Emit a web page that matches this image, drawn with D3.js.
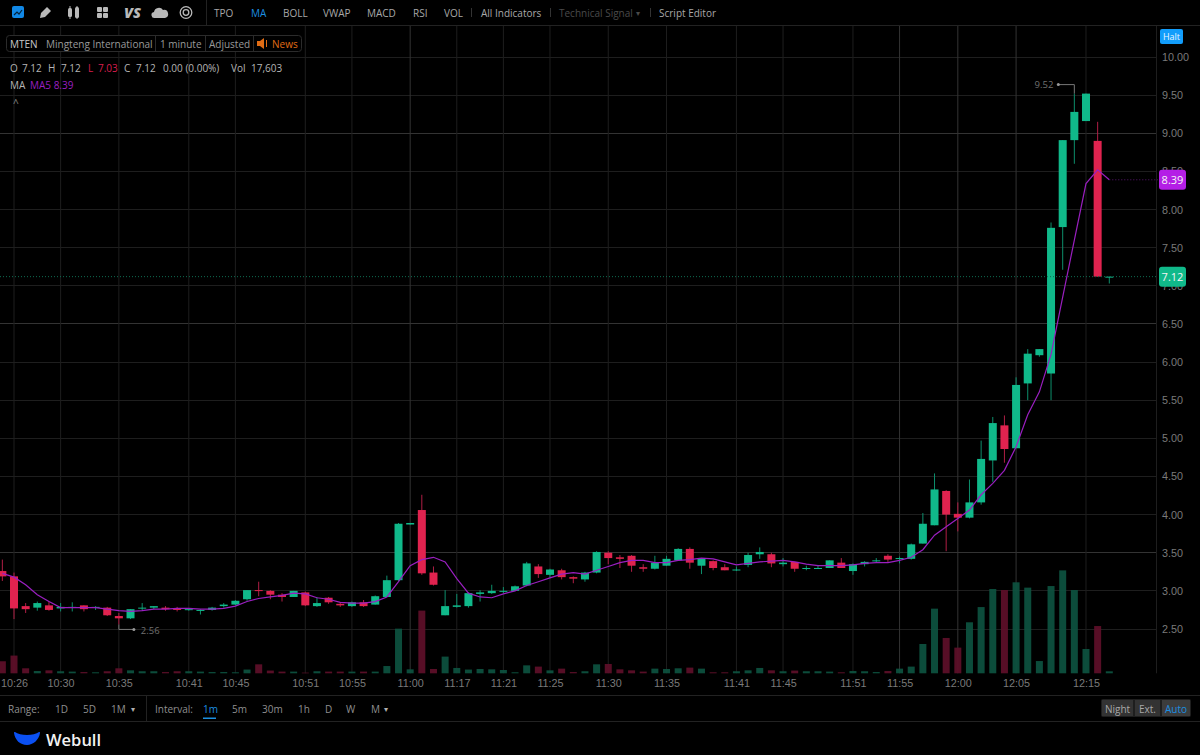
<!DOCTYPE html>
<html>
<head>
<meta charset="utf-8">
<style>
  html, body { margin: 0; padding: 0; background: #000; overflow: hidden; }
  svg { display: block; font-family: "Open Sans", sans-serif; }
  .y.axis text, .x.axis text { fill: #7a7a7a; font-size: 10.8px; }
  .axis path { display: none; }
</style>
<script src="https://cdn.jsdelivr.net/npm/d3@7"></script>
</head>
<body>
<svg id="chart" width="1200" height="755"></svg>
<script>
// Candles, one entry per minute bar
const opens = [3.26, 3.19, 2.80, 2.78, 2.81, 2.77, 2.78, 2.81, 2.78, 2.78, 2.67, 2.64, 2.77, 2.78, 2.78, 2.77, 2.75, 2.74, 2.75, 2.80, 2.82, 2.89, 3.01, 3.00, 2.95, 2.92,
  2.98, 2.80, 2.91, 2.83, 2.80, 2.85, 2.82, 2.92, 3.14, 3.87, 4.06, 3.24, 2.68, 2.79, 2.80, 2.96, 2.97, 2.99, 3.00, 3.07, 3.32, 3.21, 3.27, 3.18, 3.15, 3.24,
  3.50, 3.44, 3.46, 3.31, 3.29, 3.33, 3.40, 3.55, 3.33, 3.39, 3.31, 3.27, 3.34, 3.48, 3.48, 3.35, 3.38, 3.29, 3.29, 3.30, 3.37, 3.26, 3.35, 3.39, 3.46,
  3.42, 3.42, 3.62, 3.86, 4.31, 4.01, 3.96, 4.16, 4.71, 5.17, 4.87, 5.72, 6.09, 5.85, 7.77, 8.91, 9.16, 8.90, 7.12]
const highs = [3.41, 3.24, 2.84, 2.86, 2.86, 2.84, 2.85, 2.81, 2.80, 2.79, 2.71, 2.76, 2.84, 2.80, 2.80, 2.79, 2.77, 2.76, 2.79, 2.84, 2.88, 3.01, 3.12, 3.01, 2.97, 3.00,
  2.99, 2.92, 2.92, 2.85, 2.86, 2.88, 2.94, 3.20, 3.89, 3.89, 4.26, 3.32, 3.01, 2.96, 2.98, 3.01, 3.08, 3.05, 3.07, 3.38, 3.35, 3.29, 3.29, 3.19, 3.25, 3.52,
  3.52, 3.47, 3.47, 3.35, 3.46, 3.46, 3.56, 3.57, 3.43, 3.40, 3.35, 3.32, 3.50, 3.57, 3.50, 3.43, 3.38, 3.33, 3.33, 3.40, 3.43, 3.36, 3.39, 3.43, 3.48,
  3.45, 3.62, 4.02, 4.54, 4.32, 4.16, 4.46, 4.97, 5.28, 5.30, 5.80, 6.17, 6.17, 7.83, 8.91, 9.52, 9.52, 9.15, 7.12]
const lows = [3.13, 2.63, 2.71, 2.74, 2.74, 2.73, 2.73, 2.73, 2.75, 2.67, 2.56, 2.63, 2.74, 2.76, 2.74, 2.73, 2.74, 2.69, 2.74, 2.78, 2.81, 2.87, 2.93, 2.89, 2.86, 2.92,
  2.80, 2.79, 2.83, 2.79, 2.79, 2.79, 2.82, 2.92, 3.13, 3.87, 3.21, 3.07, 2.68, 2.78, 2.78, 2.86, 2.96, 2.97, 3.00, 3.06, 3.17, 3.17, 3.15, 3.10, 3.12, 3.23,
  3.35, 3.30, 3.25, 3.25, 3.28, 3.33, 3.40, 3.29, 3.22, 3.27, 3.27, 3.26, 3.31, 3.42, 3.31, 3.32, 3.25, 3.27, 3.29, 3.30, 3.30, 3.21, 3.32, 3.37, 3.38,
  3.36, 3.41, 3.62, 3.86, 3.52, 3.78, 3.95, 4.13, 4.43, 4.68, 4.87, 5.50, 6.07, 5.50, 7.21, 8.60, 9.16, 7.12, 7.03]
const closes = [3.19, 2.77, 2.76, 2.84, 2.75, 2.79, 2.79, 2.76, 2.79, 2.68, 2.64, 2.76, 2.78, 2.80, 2.76, 2.75, 2.76, 2.75, 2.78, 2.82, 2.87, 3.01, 3.00, 2.95, 2.92, 3.00,
  2.81, 2.84, 2.85, 2.81, 2.85, 2.80, 2.93, 3.14, 3.88, 3.89, 3.23, 3.08, 2.80, 2.81, 2.97, 2.98, 3.00, 3.00, 3.06, 3.36, 3.22, 3.28, 3.18, 3.16, 3.24, 3.51,
  3.43, 3.42, 3.33, 3.29, 3.37, 3.42, 3.55, 3.37, 3.42, 3.30, 3.27, 3.28, 3.47, 3.51, 3.36, 3.37, 3.29, 3.30, 3.30, 3.40, 3.30, 3.35, 3.38, 3.40, 3.41,
  3.43, 3.61, 3.88, 4.33, 4.00, 3.96, 4.16, 4.73, 5.20, 4.86, 5.70, 6.11, 6.17, 7.76, 8.91, 9.28, 9.52, 7.12, 7.12]
// Volume in thousands of shares
const volumes = [106, 156, 44, 20, 26, 18, 15, 11, 9, 18, 44, 26, 18, 18, 11, 18, 18, 15, 11, 11, 9, 33, 79, 24, 15, 15,
  6, 18, 15, 15, 15, 15, 15, 64, 393, 35, 552, 38, 147, 47, 33, 38, 35, 29, 9, 70, 59, 26, 41, 11, 18, 79,
  82, 35, 26, 15, 41, 38, 44, 50, 41, 9, 9, 18, 26, 47, 26, 18, 24, 18, 18, 15, 9, 20, 18, 11, 20,
  41, 59, 258, 569, 311, 226, 449, 583, 742, 733, 801, 754, 108, 768, 906, 733, 214, 416, 17.6]
const ma5 = [3.23, 3.18, 3.08, 2.95, 2.86, 2.78, 2.78, 2.78, 2.78, 2.76, 2.74, 2.73, 2.74, 2.76, 2.76, 2.77, 2.77, 2.76, 2.76, 2.77, 2.80, 2.86, 2.90, 2.92, 2.94, 2.97,
  2.96, 2.91, 2.89, 2.85, 2.84, 2.84, 2.86, 2.92, 3.12, 3.33, 3.41, 3.44, 3.38, 3.16, 2.97, 2.92, 2.91, 2.96, 3.00, 3.07, 3.12, 3.17, 3.22, 3.24, 3.22, 3.27,
  3.32, 3.37, 3.40, 3.40, 3.37, 3.37, 3.40, 3.41, 3.43, 3.42, 3.38, 3.34, 3.36, 3.38, 3.39, 3.40, 3.38, 3.35, 3.33, 3.33, 3.33, 3.34, 3.36, 3.37, 3.37,
  3.40, 3.44, 3.54, 3.73, 3.84, 3.95, 4.06, 4.26, 4.41, 4.58, 4.89, 5.31, 5.61, 6.10, 6.85, 7.60, 8.34, 8.52, 8.39]

const priceTicks = [10, 9.5, 9, 8.5, 8, 7.5, 7, 6.5, 6, 5.5, 5, 4.5, 4, 3.5, 3, 2.5]
const strongPrices = [9, 6.5, 3.5]
const timeIndexes = [1, 5, 10, 16, 20, 26, 30, 35, 39, 43, 47, 52, 57, 63, 67, 73, 77, 82, 87, 93]
const timeLabels = ['10:26', '10:30', '10:35', '10:41', '10:45', '10:51', '10:55', '11:00', '11:17', '11:21', '11:25', '11:30', '11:35', '11:41', '11:45', '11:51', '11:55', '12:00', '12:05', '12:15']
const strongTimes = [35, 77, 82, 87]

const navItems = [['TPO', 214], ['MA', 251], ['BOLL', 283], ['VWAP', 323], ['MACD', 367], ['RSI', 413], ['VOL', 444], ['All Indicators', 481], ['Technical Signal', 559], ['Script Editor', 659]]
const rangeItems = [['Range:', 8], ['1D', 55], ['5D', 83], ['1M', 111], ['Interval:', 155], ['1m', 203], ['5m', 232], ['30m', 262], ['1h', 298], ['D', 325], ['W', 346], ['M', 371]]
const quoteItems = [['O', 10, '#b5b5b5'], ['7.12', 22, '#b5b5b5'], ['H', 48, '#b5b5b5'], ['7.12', 61, '#b5b5b5'], ['L', 88, '#d81e4e'], ['7.03', 98, '#d81e4e'], ['C', 124, '#b5b5b5'], ['7.12', 136, '#b5b5b5'], ['0.00 (0.00%)', 163, '#b5b5b5'], ['Vol', 231, '#b5b5b5'], ['17,603', 251, '#b5b5b5']]

const UP = '#10b98a'
const DOWN = '#e0234f'
const UP_WICK = '#0d8f6c'
const DOWN_WICK = '#b01e45'
const PURPLE = '#9a1fc0'
const BLUE = '#1c8fe0'
const CHART_RIGHT = 1156
const CHART_TOP = 26
const CHART_BOTTOM = 673.3

const svg = d3.select('#chart')

const xScale = d3.scaleLinear().domain([0, 95]).range([2.35, 1109.3])
const yScale = d3.scaleLinear().domain([2.5, 10]).range([629, 57])
const volScale = d3.scaleLinear().domain([0, 1000]).range([CHART_BOTTOM, CHART_BOTTOM - 113.6])

const bars = opens.map((open, i) => ({ i, open, high: highs[i], low: lows[i], close: closes[i], volume: volumes[i], up: closes[i] >= open }))

/**
 * Adds one piece of real text to the page.
 */
function label (parent, text, x, y, color, size = 10, anchor = 'start', weight = 400) {
  return parent.append('text')
    .attr('x', x)
    .attr('y', y)
    .attr('dominant-baseline', 'central')
    .attr('text-anchor', anchor)
    .attr('fill', color)
    .attr('font-size', size)
    .attr('font-weight', weight)
    .text(text)
}

function hline (y, x1, x2, color) {
  svg.append('line').attr('x1', x1).attr('x2', x2).attr('y1', y).attr('y2', y).attr('stroke', color)
}

function vline (x, y1, y2, color) {
  svg.append('line').attr('x1', x).attr('x2', x).attr('y1', y1).attr('y2', y2).attr('stroke', color)
}

/**
 * Draws the grid and both axes.
 */
function drawAxes () {
  const yAxis = d3.axisRight(yScale)
    .tickValues(priceTicks)
    .tickFormat(d3.format('.2f'))
    .tickSize(0)
    .tickPadding(6)
  const xAxis = d3.axisBottom(xScale)
    .tickValues(timeIndexes)
    .tickFormat((d, i) => timeLabels[i])
    .tickSize(0)
    .tickPadding(6)

  svg.append('g').attr('class', 'grid')
    .selectAll('line.h')
    .data(priceTicks)
    .join('line')
    .attr('x1', 0)
    .attr('x2', CHART_RIGHT)
    .attr('y1', d => Math.floor(yScale(d)) + 0.5)
    .attr('y2', d => Math.floor(yScale(d)) + 0.5)
    .attr('stroke', d => strongPrices.includes(d) ? '#333333' : '#1e1e1e')

  svg.select('.grid')
    .selectAll('line.v')
    .data(timeIndexes)
    .join(enter => enter.append('line').attr('class', 'v'))
    .attr('x1', d => xScale(d))
    .attr('x2', d => xScale(d))
    .attr('y1', CHART_TOP)
    .attr('y2', CHART_BOTTOM)
    .attr('stroke', d => strongTimes.includes(d) ? '#333333' : '#1e1e1e')

  vline(CHART_RIGHT + 0.5, CHART_TOP, CHART_BOTTOM, '#1e1e1e')

  svg.append('g')
    .attr('class', 'y axis')
    .attr('transform', `translate(${CHART_RIGHT}, 0)`)
    .call(yAxis)

  svg.append('g')
    .attr('class', 'x axis')
    .attr('transform', `translate(0, ${CHART_BOTTOM})`)
    .call(xAxis)
}

function drawVolume () {
  svg.append('g')
    .selectAll('rect')
    .data(bars)
    .join('rect')
    .attr('x', d => xScale(d.i) - 3.5)
    .attr('width', 7)
    .attr('y', d => volScale(d.volume))
    .attr('height', d => CHART_BOTTOM - volScale(d.volume))
    .attr('fill', d => d.up ? '#0d5240' : '#5e0f29')
    .attr('fill-opacity', 0.92)
}

function drawCandles () {
  const candle = svg.append('g')
    .selectAll('g')
    .data(bars)
    .join('g')
    .attr('class', 'cell')

  candle.append('line')
    .attr('x1', d => xScale(d.i))
    .attr('x2', d => xScale(d.i))
    .attr('y1', d => yScale(d.high))
    .attr('y2', d => yScale(d.low))
    .attr('stroke', d => d.up ? UP_WICK : DOWN_WICK)
    .attr('stroke-width', 1)

  candle.append('rect')
    .attr('x', d => xScale(d.i) - 4)
    .attr('width', 8)
    .attr('y', d => yScale(Math.max(d.open, d.close)))
    .attr('height', d => Math.max(1, Math.abs(yScale(d.open) - yScale(d.close))))
    .attr('fill', d => d.up ? UP : DOWN)
}

function drawAverage () {
  const line = d3.line()
    .x((d, i) => xScale(i))
    .y(d => yScale(d))

  svg.append('path')
    .attr('d', line(ma5))
    .attr('fill', 'none')
    .attr('stroke', PURPLE)
    .attr('stroke-width', 1.2)
}

/**
 * Draws the last price lines, their tags and the high and low notes.
 */
function drawTags () {
  const lastY = yScale(closes[95])
  const maY = yScale(ma5[95])

  svg.append('line').attr('x1', 0).attr('x2', 1158).attr('y1', lastY).attr('y2', lastY)
    .attr('stroke', '#0f6d52').attr('stroke-dasharray', '1 2')
  svg.append('line').attr('x1', xScale(95)).attr('x2', 1158).attr('y1', maY).attr('y2', maY)
    .attr('stroke', '#5a1472').attr('stroke-dasharray', '1 2')

  svg.append('rect').attr('x', 1159).attr('y', maY - 10).attr('width', 27).attr('height', 20).attr('rx', 3).attr('fill', '#b41ee6')
  label(svg, '8.39', 1172.5, maY, '#f5f5f5', 11, 'middle')
  svg.append('rect').attr('x', 1159).attr('y', lastY - 10).attr('width', 27).attr('height', 20).attr('rx', 3).attr('fill', UP)
  label(svg, '7.12', 1172.5, lastY, '#f5f5f5', 11, 'middle')

  svg.append('rect').attr('x', 1160).attr('y', 29).attr('width', 23).attr('height', 15).attr('rx', 2).attr('fill', '#129dfb')
  label(svg, 'Halt', 1171.5, 36.5, '#e8f6ff', 9, 'middle')

  // low note
  const lowY = yScale(2.56)
  const lowX = xScale(10)
  svg.append('path').attr('d', `M${lowX},${lowY}V${lowY + 5}H${lowX + 15}`).attr('fill', 'none').attr('stroke', '#777')
  svg.append('circle').attr('cx', lowX + 15).attr('cy', lowY + 5).attr('r', 1.5).attr('fill', '#999')
  label(svg, '2.56', lowX + 22, lowY + 6, '#707070', 9.5)

  // high note
  const highY = yScale(9.52)
  const highX = xScale(92)
  svg.append('path').attr('d', `M${highX},${highY}V${highY - 9}H${highX - 16}`).attr('fill', 'none').attr('stroke', '#777')
  svg.append('circle').attr('cx', highX - 16).attr('cy', highY - 9).attr('r', 1.5).attr('fill', '#999')
  label(svg, '9.52', highX - 21, highY - 9, '#707070', 9.5, 'end')
}

function drawToolbar () {
  hline(25.5, 0, 1200, '#222222')
  vline(206.5, 0, 25, '#222222')

  // chart-type button
  svg.append('rect').attr('x', 12).attr('y', 6).attr('width', 12).attr('height', 12).attr('rx', 2).attr('fill', '#1188e6')
  svg.append('path').attr('d', 'M14,15l3,-3l2,2l3,-4').attr('fill', 'none').attr('stroke', '#04233c').attr('stroke-width', 1.2)
  // pencil
  svg.append('path').attr('d', 'M40,18l1,-5l6,-6l4,4l-6,6z').attr('fill', '#b9b9b9')
  // candles
  svg.append('rect').attr('x', 68).attr('y', 8).attr('width', 4).attr('height', 9).attr('rx', 1.5).attr('fill', '#b9b9b9')
  svg.append('rect').attr('x', 75).attr('y', 7).attr('width', 4).attr('height', 11).attr('rx', 1.5).attr('fill', '#b9b9b9')
  vline(70, 6, 19, '#b9b9b9')
  vline(77, 6, 19, '#b9b9b9')
  // grid
  const cells = [[97, 7], [103, 7], [97, 13], [103, 13]]
  svg.selectAll('rect.cell-icon').data(cells).join('rect').attr('class', 'cell-icon')
    .attr('x', d => d[0]).attr('y', d => d[1]).attr('width', 5).attr('height', 5).attr('rx', 1).attr('fill', '#b9b9b9')
  label(svg, 'VS', 124, 12.5, '#b9b9b9', 14.5, 'start', 800).attr('font-style', 'italic')
  // cloud
  svg.append('path').attr('d', 'M155,18a3,3,0,0,1,-1,-6a5,5,0,0,1,9,-2a4,4,0,0,1,2,8z').attr('fill', '#b9b9b9')
  // disc
  svg.append('circle').attr('cx', 186).attr('cy', 12.5).attr('r', 5.8).attr('fill', 'none').attr('stroke', '#b9b9b9').attr('stroke-width', 1.3)
  svg.append('circle').attr('cx', 186).attr('cy', 12.5).attr('r', 2.8).attr('fill', 'none').attr('stroke', '#b9b9b9').attr('stroke-width', 1.3)

  navItems.forEach(([text, x]) => {
    const color = text === 'MA' ? BLUE : text === 'Technical Signal' ? '#4a4a4a' : '#a8a8a8'
    label(svg, text, x, 12.5, color)
  })
  label(svg, '▾', 636, 12.5, '#4a4a4a', 8)
  vline(471.5, 8, 17, '#333')
  vline(550.5, 8, 17, '#333')
  vline(650.5, 8, 17, '#333')
}

function drawLegend () {
  svg.append('rect').attr('x', 6.5).attr('y', 35.5).attr('width', 295).attr('height', 16).attr('rx', 3)
    .attr('fill', '#000').attr('stroke', '#2b2b2b')
  label(svg, 'MTEN', 10, 43.5, '#c8c8c8')
  label(svg, 'Mingteng International', 46, 43.5, '#9a9a9a')
  label(svg, '1 minute', 160, 43.5, '#9a9a9a')
  label(svg, 'Adjusted', 209, 43.5, '#9a9a9a')
  label(svg, 'News', 272, 43.5, '#e06c14')
  vline(155.5, 36, 51, '#2b2b2b')
  vline(205.5, 36, 51, '#2b2b2b')
  vline(253.5, 36, 51, '#2b2b2b')
  svg.append('path').attr('d', 'M257,41h3l4,-3v11l-4,-3h-3z').attr('fill', '#e06c14')
  vline(266.5, 40, 47, '#e06c14')

  quoteItems.forEach(([text, x, color]) => label(svg, text, x, 67.5, color))
  label(svg, 'MA', 10, 84.5, '#b5b5b5')
  label(svg, 'MA5 8.39', 30, 84.5, PURPLE)
  label(svg, '^', 13, 103, '#8a8a8a')
}

function drawFooter () {
  hline(695.5, 0, 1200, '#222222')
  hline(721.5, 0, 1200, '#222222')
  vline(146.5, 696, 721, '#222222')

  rangeItems.forEach(([text, x]) => label(svg, text, x, 708.5, text === '1m' ? BLUE : '#8f8f8f'))
  label(svg, '▾', 131, 708.5, '#b0b0b0', 8)
  label(svg, '▾', 384, 708.5, '#b0b0b0', 8)
  svg.append('rect').attr('x', 203).attr('y', 717.5).attr('width', 13).attr('height', 1.5).attr('fill', BLUE)

  svg.append('rect').attr('x', 1101).attr('y', 699).attr('width', 90).attr('height', 18).attr('rx', 2).attr('fill', '#1e1e1e')
  svg.append('rect').attr('x', 1102).attr('y', 700).attr('width', 31).attr('height', 16).attr('fill', '#333333')
  svg.append('rect').attr('x', 1135).attr('y', 700).attr('width', 25).attr('height', 16).attr('fill', '#333333')
  svg.append('rect').attr('x', 1162).attr('y', 700).attr('width', 28).attr('height', 16).attr('fill', '#3c3c3c')
  label(svg, 'Night', 1117.5, 708.5, '#a8a8a8', 10, 'middle')
  label(svg, 'Ext.', 1147.5, 708.5, '#a8a8a8', 10, 'middle')
  label(svg, 'Auto', 1176, 708.5, BLUE, 10, 'middle')

  svg.append('path').attr('d', 'M15,732c5,4,19,4,24,0c1,0,1,0,1,1c-1,7,-7,12,-13,12c-7,0,-12,-5,-13,-12c0,-1,0,-1,1,-1z').attr('fill', '#0b50f2')
  label(svg, 'Webull', 46, 739, '#f2f2f2', 16.5, 'start', 600)
}

drawAxes()
drawVolume()
drawCandles()
drawAverage()
drawTags()
drawToolbar()
drawLegend()
drawFooter()
</script>
</body>
</html>
